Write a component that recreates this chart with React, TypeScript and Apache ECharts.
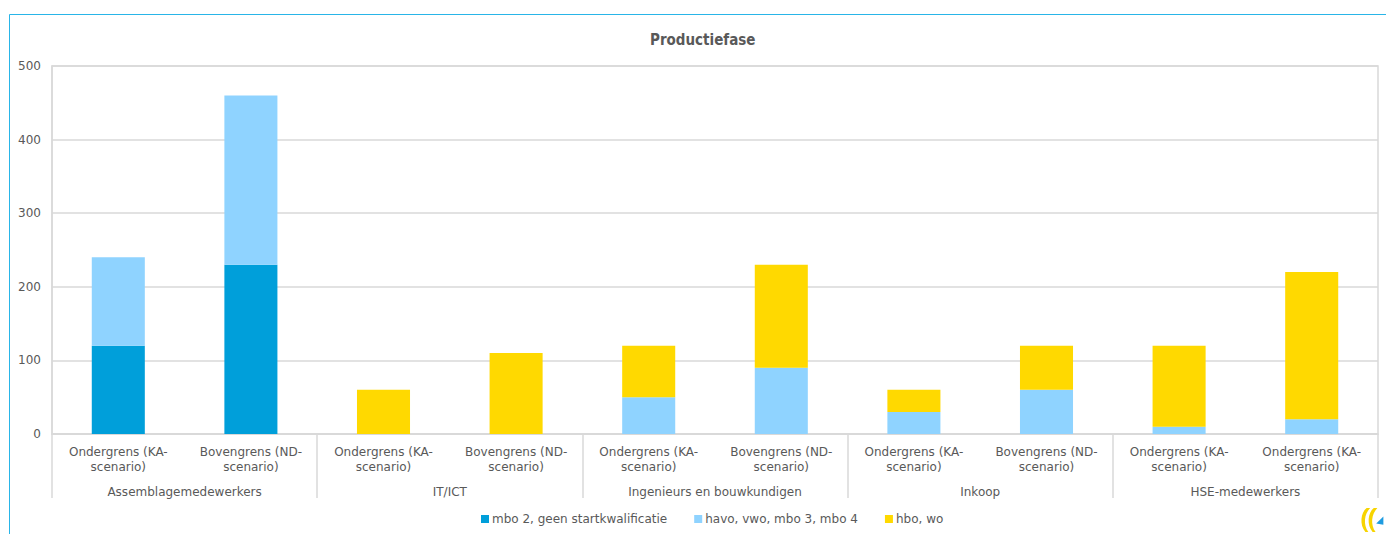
import React, { useEffect, useRef } from "react";
import * as echarts from "echarts";

const TITLE = "Productiefase";
const groups = ["Assemblagemedewerkers", "IT/ICT", "Ingenieurs en bouwkundigen", "Inkoop", "HSE-medewerkers"];
const categories = [
  "Ondergrens (KA-scenario)", "Bovengrens (ND-scenario)",
  "Ondergrens (KA-scenario)", "Bovengrens (ND-scenario)",
  "Ondergrens (KA-scenario)", "Bovengrens (ND-scenario)",
  "Ondergrens (KA-scenario)", "Bovengrens (ND-scenario)",
  "Ondergrens (KA-scenario)", "Ondergrens (KA-scenario)",
];
const seriesNames = ["mbo 2, geen startkwalificatie", "havo, vwo, mbo 3, mbo 4", "hbo, wo"];
const mbo2 = [120, 230, 0, 0, 0, 0, 0, 0, 0, 0];
const havo = [120, 230, 0, 0, 50, 90, 30, 60, 10, 20];
const hbo = [0, 0, 60, 110, 70, 140, 30, 60, 110, 200];
const colors = ["#009FDA", "#8FD3FF", "#FFD900"];
const yTicks = { min: 0, max: 500, interval: 100 };

const FONT = "'DejaVu Sans', sans-serif";
const TFONT = "'DejaVu Sans Condensed', 'DejaVu Sans', sans-serif";
const TEXT = "#595959";
const GRID = "#D9D9D9";

echarts.graphic.registerShape(
  "logoY",
  echarts.graphic.extendPath(
    "M8 0 C3 4 2 14 7 20 L9.5 20 C5 14 6 5 11 0 Z M14 0 C9 4 8 14 13 20 L15.5 20 C11 14 12 5 17 0 Z",
    {}
  )
);
echarts.graphic.registerShape(
  "logoB",
  echarts.graphic.extendPath("M16 13 L22 7 L22 14 Z", {})
);

export default function App() {
  const ref = useRef<HTMLDivElement>(null);
  useEffect(() => {
    const chart = echarts.init(ref.current!, null, { renderer: "svg" });
    const data = [mbo2, havo, hbo];
    chart.setOption({
      animation: false,
      textStyle: { fontFamily: FONT, color: TEXT },
      title: {
        text: TITLE,
        left: 645,
        top: 27,
        textStyle: { fontFamily: TFONT, fontSize: 15, fontWeight: "bold", color: TEXT },
      },
      legend: {
        bottom: 4,
        left: 476,
        itemWidth: 8,
        itemHeight: 8,
        itemGap: 27,
        icon: "rect",
        textStyle: { fontFamily: FONT, fontSize: 12, color: TEXT, padding: [0, 0, 0, -2] },
        data: seriesNames,
      },
      grid: {
        left: 52,
        right: 8,
        top: 66,
        bottom: 100,
        show: true,
        borderColor: GRID,
        borderWidth: 1.5,
      },
      xAxis: [
        {
          type: "category",
          data: categories,
          position: "bottom",
          axisLine: { lineStyle: { color: GRID, width: 1.5 } },
          axisTick: { show: false },
          axisLabel: {
            interval: 0,
            fontFamily: FONT,
            fontSize: 12,
            color: TEXT,
            lineHeight: 15,
            margin: 10,
            formatter: (v: string) => v.replace(/\(([A-Z]+)-/, "($1-\n"),
          },
        },
        {
          type: "category",
          data: groups,
          position: "bottom",
          axisLine: { show: false },
          axisTick: { show: true, length: 64, lineStyle: { color: GRID, width: 1.5 } },
          axisLabel: { interval: 0, fontFamily: FONT, fontSize: 12, color: TEXT, margin: 52 },
        },
      ],
      yAxis: {
        type: "value",
        min: yTicks.min,
        max: yTicks.max,
        interval: yTicks.interval,
        axisLine: { show: true, lineStyle: { color: GRID, width: 1.5 } },
        axisTick: { show: false },
        splitLine: { lineStyle: { color: GRID, width: 1.5 } },
        axisLabel: { fontFamily: FONT, fontSize: 12, color: TEXT, margin: 11 },
      },
      series: seriesNames.map((name, i) => ({
        name,
        type: "bar",
        stack: "total",
        xAxisIndex: 0,
        barWidth: "40%",
        itemStyle: { color: colors[i] },
        data: data[i].map((v) => (v === 0 ? null : v)),
      })),
      graphic: [
        {
          type: "rect",
          shape: { x: 9.5, y: 14.5, width: 1500, height: 600 },
          style: { fill: "none", stroke: "#29B5E8", lineWidth: 1 },
          silent: true,
        },
        { type: "logoY", x: 1357, y: 508, scaleX: 1.2, scaleY: 1.2, style: { fill: "#F7D400" } },
        { type: "logoB", x: 1357, y: 508, scaleX: 1.2, scaleY: 1.2, style: { fill: "#1E9BE0" } },
      ],
    });
    return () => chart.dispose();
  }, []);
  return (
    <div
      ref={ref}
      style={{ position: "fixed", left: 0, top: 0, width: 1386, height: 534, background: "#fff" }}
    />
  );
}
